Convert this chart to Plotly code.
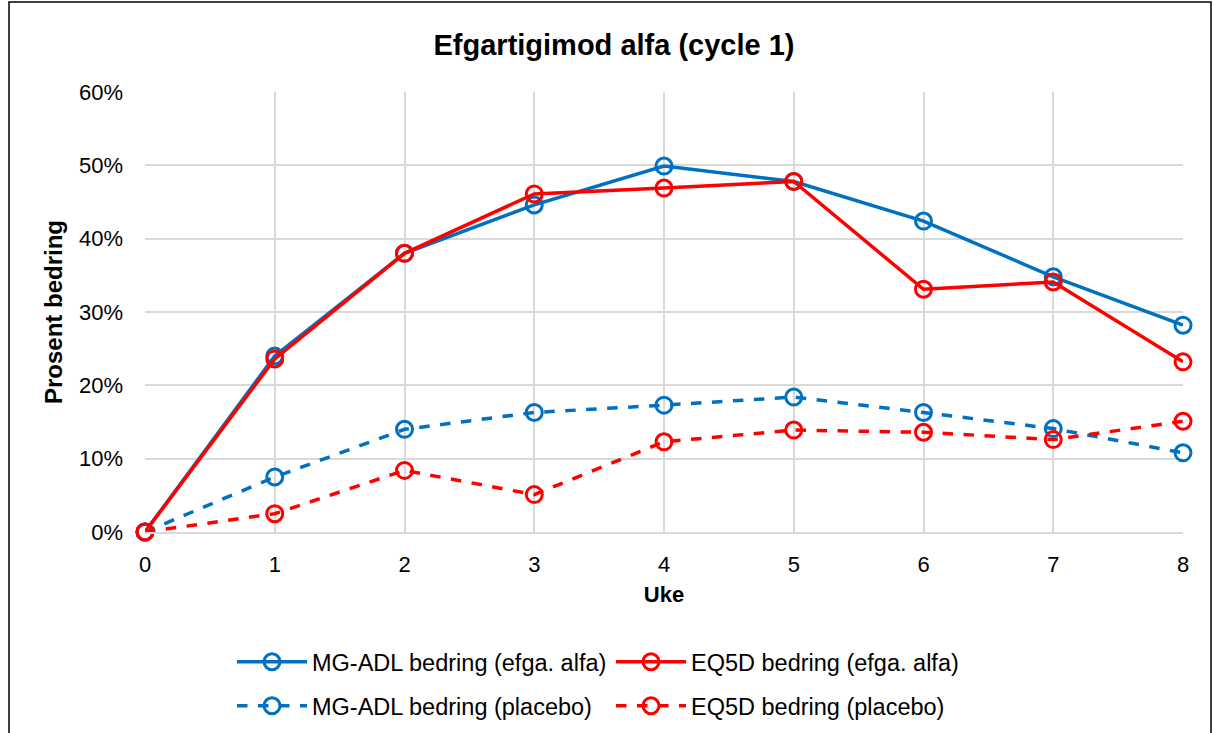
import plotly.graph_objects as go

weeks = [0, 1, 2, 3, 4, 5, 6, 7, 8]
mgadl_efga = [0.0, 24.0, 38.0, 44.6, 49.9, 47.8, 42.4, 34.8, 28.2]
eq5d_efga = [0.0, 23.6, 38.0, 46.1, 46.9, 47.8, 33.1, 34.1, 23.2]
mgadl_placebo = [0.0, 7.5, 14.0, 16.3, 17.3, 18.4, 16.3, 14.1, 10.8]
eq5d_placebo = [0.0, 2.5, 8.4, 5.1, 12.3, 13.9, 13.6, 12.6, 15.1]

names = ["MG-ADL bedring (efga. alfa)", "EQ5D bedring (efga. alfa)",
         "MG-ADL bedring (placebo)", "EQ5D bedring (placebo)"]

BLUE = "#0070C0"
RED = "#FF0000"
FONT = "Liberation Sans, Arial, sans-serif"

fig = go.Figure()
series = [
    (mgadl_efga, names[0], BLUE, "solid", "legend"),
    (eq5d_efga, names[1], RED, "solid", "legend"),
    (mgadl_placebo, names[2], BLUE, "dash", "legend2"),
    (eq5d_placebo, names[3], RED, "dash", "legend2"),
]
for vals, name, col, dash, lg in series:
    fig.add_trace(go.Scatter(
        x=weeks, y=[v / 100 for v in vals], name=name, mode="lines+markers",
        line=dict(color=col, width=3.5, dash=dash),
        marker=dict(symbol="circle-open", size=16, color=col, line=dict(width=3, color=col)),
        cliponaxis=False, legend=lg,
    ))

legend_common = dict(orientation="h", xanchor="left", yanchor="middle",
                     font=dict(family=FONT, size=23.5, color="#000000"),
                     entrywidth=294, entrywidthmode="pixels", itemwidth=70,
                     bgcolor="rgba(0,0,0,0)", tracegroupgap=0)

fig.update_layout(
    width=1213, height=733,
    margin=dict(l=145, r=30, t=92, b=201, autoexpand=False),
    paper_bgcolor="white", plot_bgcolor="white",
    title=dict(text="<b>Efgartigimod alfa (cycle 1)</b>", x=614 / 1213, xref="container",
               xanchor="center", y=1 - 45 / 733, yref="container", yanchor="middle",
               font=dict(family=FONT, size=29, color="#000000")),
    xaxis=dict(range=[0, 8], tickvals=weeks, ticktext=[str(w) for w in weeks],
               showgrid=True, gridcolor="#D9D9D9", gridwidth=1.5,
               showline=True, linecolor="#D9D9D9", linewidth=1.5,
               zeroline=False, ticks="", ticklabelstandoff=12,
               tickfont=dict(family=FONT, size=22, color="#000000"),
               title=dict(text="<b>Uke</b>", font=dict(family=FONT, size=22, color="#000000"), standoff=10)),
    yaxis=dict(range=[0, 0.6], tickvals=[0, 0.1, 0.2, 0.3, 0.4, 0.5, 0.6], tickformat=".0%",
               showgrid=True, gridcolor="#D9D9D9", gridwidth=1.5,
               showline=False, zeroline=False, ticks="", ticklabelstandoff=21,
               tickfont=dict(family=FONT, size=22, color="#000000"),
               title=dict(text="<b>Prosent bedring</b>", font=dict(family=FONT, size=24, color="#000000"), standoff=9)),
    legend=dict(x=(232 - 145) / 1038, y=(532 - 662) / 440, **legend_common),
    legend2=dict(x=(232 - 145) / 1038, y=(532 - 706) / 440, **legend_common),
    shapes=[dict(type="rect", xref="paper", yref="paper",
                 x0=(9 - 145) / 1038, x1=(1211 - 145) / 1038,
                 y0=(532 - 760) / 440, y1=(532 - 2) / 440,
                 line=dict(color="#000000", width=1.5), fillcolor="rgba(0,0,0,0)", layer="below")],
)

fig.write_html("out.html")
